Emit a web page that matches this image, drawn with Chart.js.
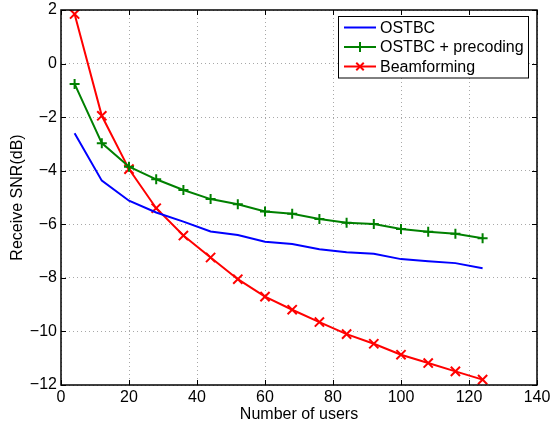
<!DOCTYPE html>
<html>
<head>
<meta charset="utf-8">
<script src="https://cdn.jsdelivr.net/npm/chart.js@4/dist/chart.umd.min.js"></script>
<style>
  body { margin: 0; background: #fff; }
  #wrap { width: 551px; height: 426px; }
</style>
</head>
<body>
<div id="wrap"><canvas id="snrChart" width="551" height="426"></canvas></div>
<script>
// Data
const users = [4, 12, 20, 28, 36, 44, 52, 60, 68, 76, 84, 92, 100, 108, 116, 124];
const ostbc = [-2.6, -4.37, -5.12, -5.56, -5.9, -6.27, -6.4, -6.65, -6.74, -6.93, -7.04, -7.1, -7.3, -7.38, -7.45, -7.64];
const ostbcPrecoding = [-0.76, -2.97, -3.85, -4.32, -4.72, -5.06, -5.25, -5.52, -5.61, -5.8, -5.94, -5.99, -6.18, -6.28, -6.35, -6.52];
const beamforming = [1.85, -1.95, -3.94, -5.4, -6.42, -7.24, -8.05, -8.7, -9.19, -9.65, -10.1, -10.46, -10.87, -11.18, -11.49, -11.8];

const seriesNames = ['OSTBC', 'OSTBC + precoding', 'Beamforming'];
const seriesColors = ['#0000ff', '#008000', '#ff0000'];
const seriesMarkers = [false, 'cross', 'crossRot'];

const FONT = '"Liberation Sans", Arial, Helvetica, sans-serif';

function toPoints(ys) {
    return users.map((u, i) => ({ x: u, y: ys[i] }));
}

// Box frame + inward tick marks (MATLAB style)
const frameBox = {
    id: 'frameBox',
    afterDatasetsDraw(chart) {
        const { ctx, chartArea: a, scales } = chart;
        const len = 5;
        ctx.save();
        ctx.strokeStyle = '#000';
        ctx.lineWidth = 1;
        ctx.beginPath();
        scales.x.ticks.forEach(t => {
            const px = Math.round(scales.x.getPixelForValue(t.value)) + 0.5;
            ctx.moveTo(px, a.bottom); ctx.lineTo(px, a.bottom - len);
            ctx.moveTo(px, a.top); ctx.lineTo(px, a.top + len);
        });
        scales.y.ticks.forEach(t => {
            const py = Math.round(scales.y.getPixelForValue(t.value)) + 0.5;
            ctx.moveTo(a.left, py); ctx.lineTo(a.left + len, py);
            ctx.moveTo(a.right, py); ctx.lineTo(a.right - len, py);
        });
        ctx.stroke();
        ctx.lineWidth = 1.5;
        ctx.strokeRect(a.left, a.top, a.right - a.left, a.bottom - a.top);
        ctx.restore();
    }
};

// Legend box in the upper right corner of the axes
const boxLegend = {
    id: 'boxLegend',
    afterDraw(chart) {
        const { ctx, chartArea: a } = chart;
        const w = 190, rowH = 19.5;
        const x0 = a.right - 9 - w, y0 = a.top + 6;
        const h = rowH * seriesNames.length + 3;
        ctx.save();
        ctx.fillStyle = '#fff';
        ctx.fillRect(x0, y0, w, h);
        ctx.strokeStyle = '#000';
        ctx.lineWidth = 1;
        ctx.strokeRect(x0 + 0.5, y0 + 0.5, w, h);
        ctx.font = '16px ' + FONT;
        ctx.textBaseline = 'middle';
        seriesNames.forEach((name, i) => {
            const cy = y0 + 11.5 + i * rowH;
            const lx1 = x0 + 6, lx2 = x0 + 38;
            ctx.strokeStyle = seriesColors[i];
            ctx.lineWidth = 2;
            ctx.beginPath();
            ctx.moveTo(lx1, cy); ctx.lineTo(lx2, cy);
            ctx.stroke();
            const mx = (lx1 + lx2) / 2, r = 5;
            ctx.beginPath();
            if (seriesMarkers[i] === 'cross') {
                ctx.moveTo(mx - r, cy); ctx.lineTo(mx + r, cy);
                ctx.moveTo(mx, cy - r); ctx.lineTo(mx, cy + r);
            } else if (seriesMarkers[i] === 'crossRot') {
                const d = r * 0.75;
                ctx.moveTo(mx - d, cy - d); ctx.lineTo(mx + d, cy + d);
                ctx.moveTo(mx - d, cy + d); ctx.lineTo(mx + d, cy - d);
            }
            ctx.stroke();
            ctx.fillStyle = '#000';
            ctx.fillText(name, x0 + 42, cy + 1);
        });
        ctx.restore();
    }
};

const tickFont = { family: FONT, size: 16 };
const gridStyle = {
    color: '#a8a8a8',
    lineWidth: 1,
    drawTicks: false
};

new Chart(document.getElementById('snrChart'), {
    type: 'line',
    data: {
        datasets: [
            {
                label: seriesNames[0], data: toPoints(ostbc),
                borderColor: seriesColors[0], backgroundColor: seriesColors[0],
                borderWidth: 2, pointRadius: 0, tension: 0
            },
            {
                label: seriesNames[1], data: toPoints(ostbcPrecoding),
                borderColor: seriesColors[1], backgroundColor: seriesColors[1],
                borderWidth: 2, pointStyle: 'cross', pointRadius: 5,
                pointBorderWidth: 2, tension: 0
            },
            {
                label: seriesNames[2], data: toPoints(beamforming),
                borderColor: seriesColors[2], backgroundColor: seriesColors[2],
                borderWidth: 2, pointStyle: 'crossRot', pointRadius: 6.5,
                pointBorderWidth: 2, tension: 0
            }
        ]
    },
    options: {
        responsive: false,
        animation: false,
        layout: { padding: { top: 10, right: 14, left: 0, bottom: 0 } },
        plugins: { legend: { display: false }, tooltip: { enabled: false } },
        scales: {
            x: {
                type: 'linear', min: 0, max: 140,
                afterFit: s => { s.height = 41; s.paddingLeft = 0; s.paddingRight = 0; },
                ticks: { stepSize: 20, color: '#000', font: tickFont, padding: 3, maxRotation: 0 },
                grid: Object.assign({}, gridStyle),
                border: { display: false, dash: [1, 3] },
                title: { display: true, text: 'Number of users', color: '#000', font: tickFont, padding: { top: 0, bottom: 2 } }
            },
            y: {
                min: -12, max: 2,
                afterFit: s => { s.width = 61; s.paddingTop = 0; s.paddingBottom = 0; },
                ticks: {
                    stepSize: 2, color: '#000', font: tickFont, padding: 4,
                    callback: v => String(v).replace('-', '\u2212')
                },
                grid: Object.assign({}, gridStyle),
                border: { display: false, dash: [1, 3] },
                title: { display: true, text: 'Receive SNR(dB)', color: '#000', font: tickFont, padding: { top: 8, bottom: 0 } }
            }
        }
    },
    plugins: [frameBox, boxLegend]
});
</script>
</body>
</html>
